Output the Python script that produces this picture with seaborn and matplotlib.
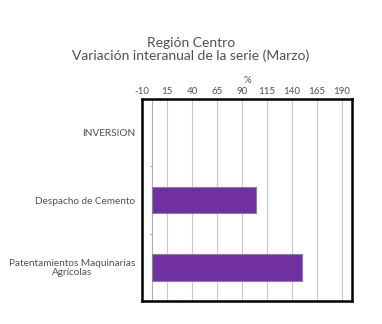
import matplotlib
matplotlib.use("Agg")
import matplotlib.pyplot as plt
import seaborn as sns
import pandas as pd

categories = ["INVERSION", "Despacho de Cemento", "Patentamientos Maquinarias\nAgrícolas"]
values = [None, 103.5, 150.0]
xticks = [-10, 15, 40, 65, 90, 115, 140, 165, 190]

df = pd.DataFrame({"cat": categories, "val": values})

sns.set_theme(style="white")
plt.rcParams['font.family'] = ['Lato', 'DejaVu Sans']

fig = plt.figure(figsize=(3.82, 3.24), dpi=100)
ax = fig.add_axes([142/382, 1 - 301/324, 210/382, 202/324])

sns.barplot(data=df, x="val", y="cat", order=categories, orient="h", color="#7030A0",
            edgecolor="#8a7fa0", linewidth=0.8, width=0.4, ax=ax, zorder=3,
            saturation=1)

ax.set_xlim(-10, 200)
ax.set_ylim(2.5, -0.5)
ax.set_xticks(xticks)
ax.set_xticklabels([str(t) for t in xticks], fontsize=7, color="#505050")
ax.xaxis.tick_top()
ax.xaxis.set_label_position("top")
ax.set_xlabel("%", fontsize=7, color="#505050", labelpad=3)
ax.set_ylabel("")
ax.tick_params(axis="x", length=0, pad=2)
ax.tick_params(axis="y", length=0, pad=5, labelsize=7.2, labelcolor="#505050")
for lbl in ax.get_yticklabels():
    lbl.set_horizontalalignment("right")
    lbl.set_multialignment("center")
    lbl.set_linespacing(0.95)

for t in xticks:
    ax.axvline(t, color="#c8c8c8", linewidth=0.8, zorder=1)
ax.axvline(0, color="#b0b0b0", linewidth=0.8, zorder=2)
for yb in [0.5, 1.5]:
    ax.plot([-2, 0], [yb, yb], color="#909090", linewidth=0.6, zorder=2)

for s in ax.spines.values():
    s.set_visible(True)
    s.set_color("black")
    s.set_linewidth(1.8)

fig.suptitle("Región Centro\nVariación interanual de la serie (Marzo)",
             x=0.5, y=1 - 37/324, fontsize=10, color="#505050", linespacing=1.0)

fig.savefig("out.png", dpi=100, facecolor="white")
